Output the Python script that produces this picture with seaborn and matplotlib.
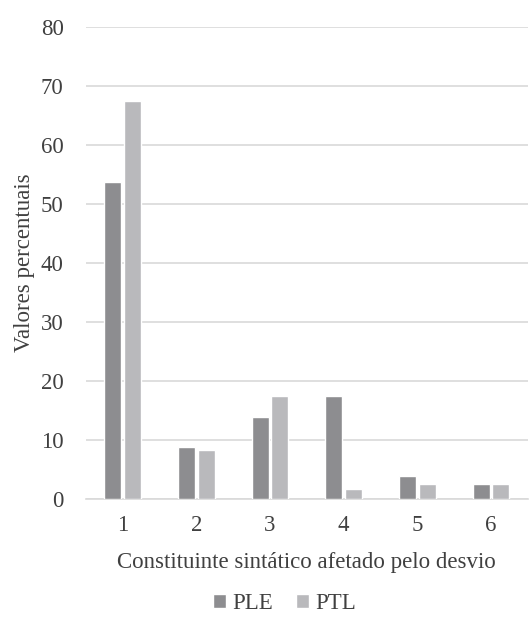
import pandas as pd
import seaborn as sns
import matplotlib.pyplot as plt

# values
categorias = ["1", "2", "3", "4", "5", "6"]
ple = [53.8, 8.8, 13.8, 17.5, 3.8, 2.5]
ptl = [67.5, 8.2, 17.5, 1.6, 2.5, 2.5]
yticks = [0, 10, 20, 30, 40, 50, 60, 70, 80]

df = pd.DataFrame({
    "constituinte": categorias * 2,
    "valor": ple + ptl,
    "grupo": ["PLE"] * len(ple) + ["PTL"] * len(ptl),
})

sns.set_style("white")
plt.rcParams["font.family"] = ["Liberation Serif", "DejaVu Serif"]
text_color = "#404040"
fs = 16.5

fig = plt.figure(figsize=(5.3, 6.33), dpi=100)
ax = fig.add_axes([0.162, 0.212, 0.834, 0.745])

sns.barplot(
    data=df, x="constituinte", y="valor", hue="grupo",
    palette={"PLE": "#8d8d90", "PTL": "#b9b9bc"},
    width=0.53, gap=0.13, saturation=1, ax=ax, zorder=3,
)

ax.set_ylim(0, 80)
ax.set_yticks(yticks)
ax.yaxis.grid(True, color="#d9d9d9", linewidth=1.2, zorder=0)
ax.set_axisbelow(True)
for s in ["top", "right", "left"]:
    ax.spines[s].set_visible(False)
ax.spines["bottom"].set_color("#d9d9d9")
ax.spines["bottom"].set_linewidth(1.2)
ax.tick_params(axis="both", length=0, labelsize=fs, labelcolor=text_color)
ax.tick_params(axis="y", pad=16)
ax.tick_params(axis="x", pad=12)

ax.set_ylabel("Valores percentuais", fontsize=fs, color=text_color, labelpad=4)
ax.set_xlabel("Constituinte sintático afetado pelo desvio", fontsize=fs,
              color=text_color, labelpad=11)

ax.legend(loc="center", bbox_to_anchor=(0.45, -0.222), ncol=2, frameon=False,
          fontsize=fs, labelcolor=text_color, handlelength=0.55, handleheight=0.55,
          handletextpad=0.3, columnspacing=1.0)

plt.savefig("out.png", dpi=100)
